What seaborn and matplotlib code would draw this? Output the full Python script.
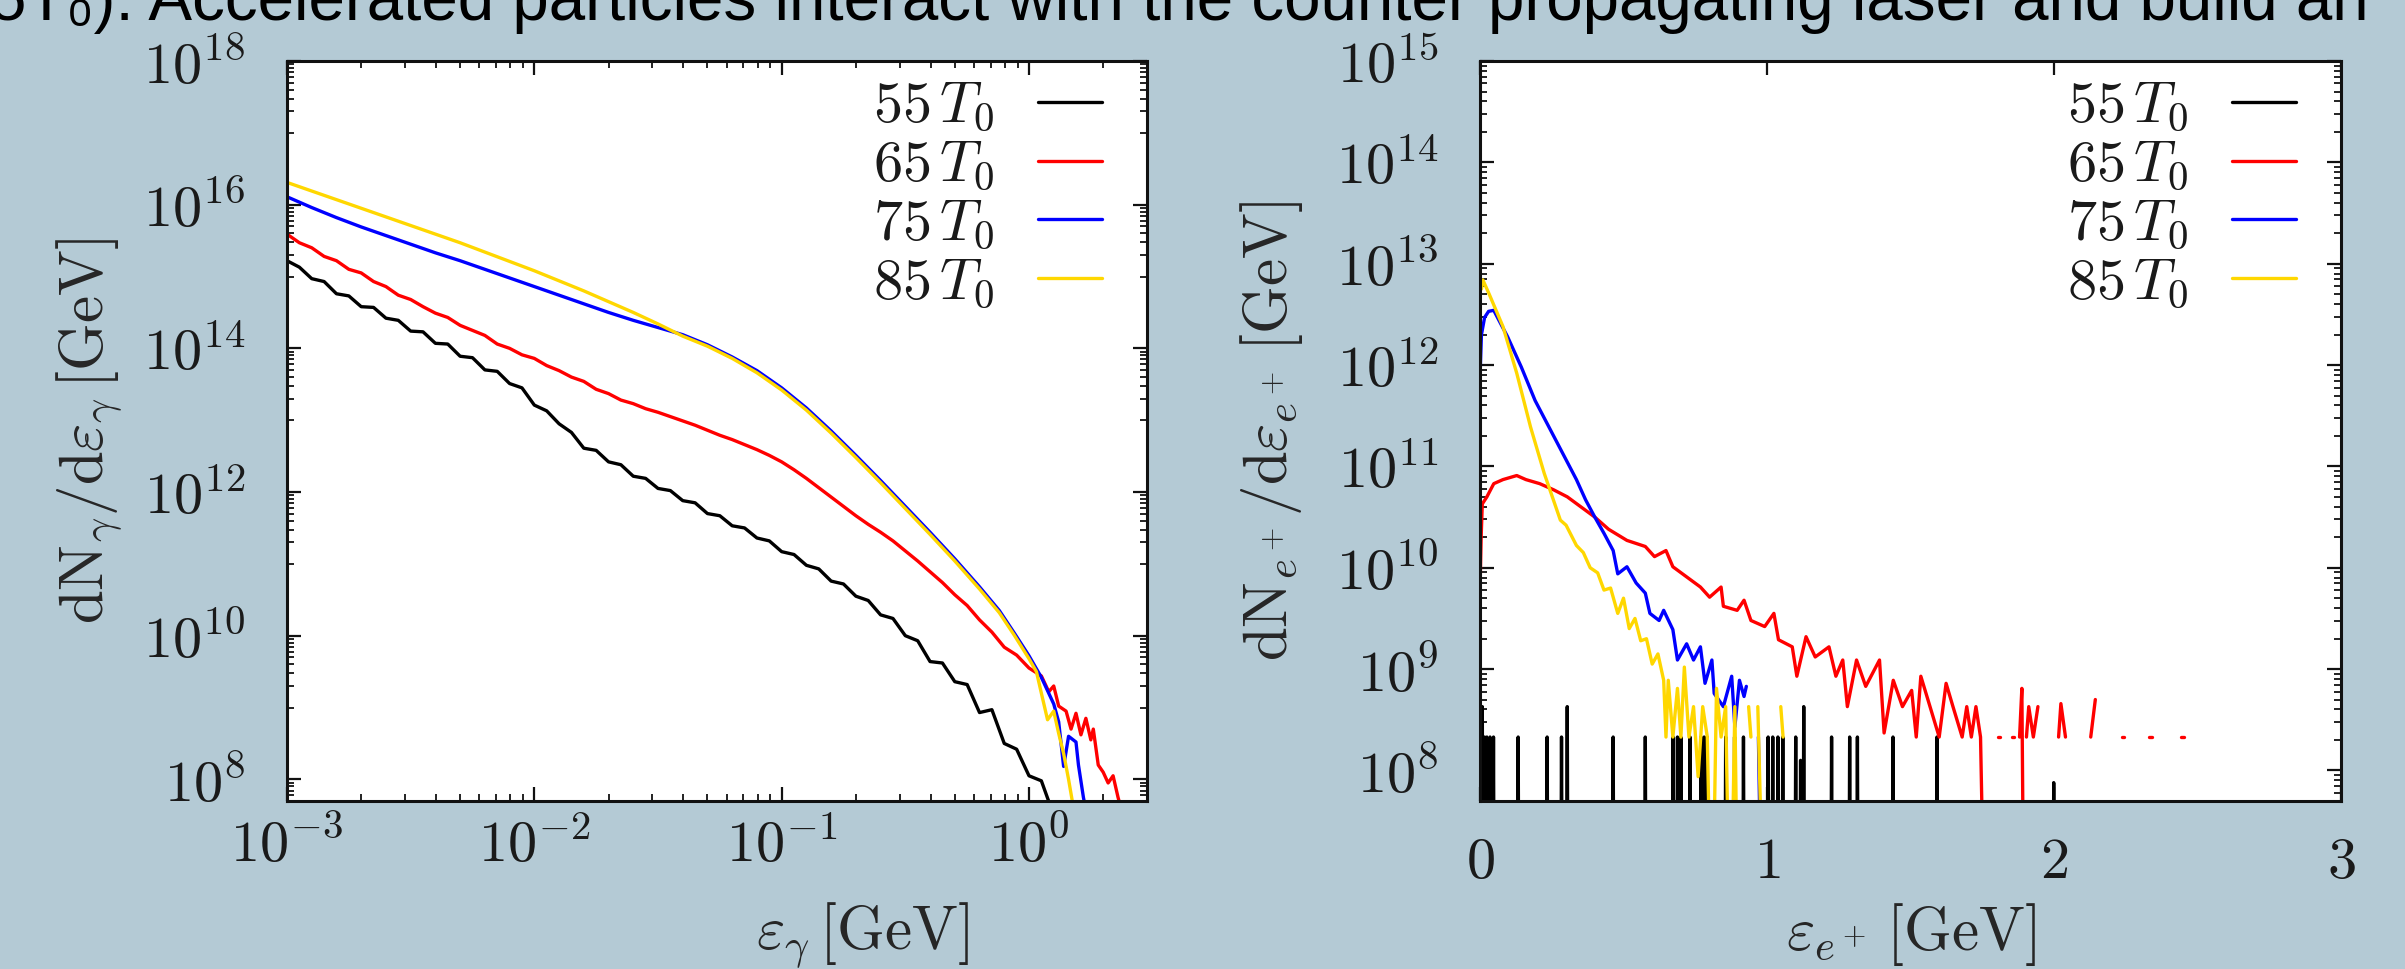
import numpy as np
import pandas as pd
import matplotlib
matplotlib.use("Agg")
import matplotlib.pyplot as plt
import seaborn as sns
from matplotlib.ticker import FixedLocator, FuncFormatter, NullLocator, LogLocator, NullFormatter
from matplotlib.lines import Line2D

# ---------------- data ----------------
series_names = ["55", "65", "75", "85"]
series_colors = ["#000000", "#ff0000", "#0000ff", "#ffd700"]

# Left panel: photon spectra, log10(E/GeV) and log10(dN/dE)
gam55_logE = [-3.00,-2.95,-2.90,-2.85,-2.80,-2.75,-2.70,-2.65,-2.60,-2.55,-2.50,-2.45,-2.40,-2.35,-2.30,-2.25,
              -2.20,-2.15,-2.10,-2.05,-2.00,-1.95,-1.90,-1.85,-1.80,-1.75,-1.70,-1.65,-1.60,-1.55,-1.50,-1.45,
              -1.40,-1.35,-1.30,-1.25,-1.20,-1.15,-1.10,-1.05,-1.00,-0.95,-0.90,-0.85,-0.80,-0.75,-0.70,-0.65,
              -0.60,-0.55,-0.50,-0.45,-0.40,-0.35,-0.30,-0.25,-0.20,-0.15,-0.10,-0.05,0.00,0.05,0.10]
gam55_logN = [15.22,15.13,14.97,14.93,14.76,14.73,14.58,14.57,14.42,14.39,14.24,14.23,14.07,14.06,13.89,13.87,
              13.70,13.68,13.51,13.45,13.21,13.13,12.95,12.83,12.61,12.58,12.42,12.38,12.22,12.19,12.05,12.02,
              11.88,11.85,11.70,11.67,11.53,11.50,11.36,11.32,11.17,11.13,10.98,10.93,10.76,10.72,10.55,10.49,
              10.29,10.24,10.00,9.93,9.64,9.62,9.36,9.32,8.93,8.97,8.50,8.42,8.05,7.98,7.50]

gam65_logE = [-3.00,-2.95,-2.90,-2.85,-2.80,-2.75,-2.70,-2.65,-2.60,-2.55,-2.50,-2.45,-2.40,-2.35,-2.30,-2.25,
              -2.20,-2.15,-2.10,-2.05,-2.00,-1.95,-1.90,-1.85,-1.80,-1.75,-1.70,-1.65,-1.60,-1.55,-1.50,-1.45,
              -1.40,-1.35,-1.30,-1.25,-1.20,-1.15,-1.10,-1.05,-1.00,-0.95,-0.90,-0.85,-0.80,-0.75,-0.70,-0.65,
              -0.60,-0.55,-0.50,-0.45,-0.40,-0.35,-0.30,-0.25,-0.20,-0.15,-0.10,-0.05,0.00,
              0.05,0.08,0.10,0.12,0.15,0.17,0.19,0.21,0.23,0.25,0.26,0.28,0.30,0.32,0.34,0.36,0.38]
gam65_logN = [15.59,15.47,15.40,15.28,15.22,15.10,15.05,14.93,14.86,14.74,14.68,14.58,14.49,14.43,14.32,14.25,
              14.18,14.06,14.00,13.91,13.86,13.76,13.69,13.60,13.54,13.43,13.37,13.28,13.23,13.16,13.11,13.05,
              12.99,12.93,12.86,12.79,12.73,12.66,12.59,12.51,12.42,12.31,12.19,12.06,11.93,11.80,11.67,11.55,
              11.44,11.32,11.18,11.04,10.89,10.74,10.57,10.42,10.22,10.05,9.84,9.73,9.55,
              9.44,9.22,9.30,9.02,8.95,8.70,8.92,8.62,8.85,8.55,8.70,8.20,8.10,7.95,8.05,7.75,7.50]

gam75_logE = [-3.0,-2.9,-2.8,-2.7,-2.6,-2.5,-2.4,-2.3,-2.2,-2.1,-2.0,-1.9,-1.8,-1.7,-1.6,-1.5,-1.4,-1.3,
              -1.2,-1.1,-1.0,-0.9,-0.8,-0.7,-0.6,-0.5,-0.4,-0.3,-0.2,-0.12,-0.06,0.0,0.05,0.10,0.12,0.14,
              0.16,0.19,0.20,0.22,0.24]
gam75_logN = [16.11,15.96,15.82,15.69,15.57,15.45,15.33,15.22,15.10,14.98,14.86,14.74,14.62,14.50,14.39,14.29,14.19,14.05,
              13.88,13.69,13.45,13.17,12.85,12.51,12.16,11.80,11.44,11.07,10.68,10.35,10.04,9.72,9.42,9.05,8.80,8.18,
              8.60,8.52,8.20,7.75,7.40]

gam85_logE = [-3.0,-2.9,-2.8,-2.7,-2.6,-2.5,-2.4,-2.3,-2.2,-2.1,-2.0,-1.9,-1.8,-1.7,-1.6,-1.5,-1.4,-1.3,-1.2,-1.1,-1.0,
              -0.9,-0.8,-0.7,-0.6,-0.5,-0.4,-0.3,-0.2,-0.12,-0.06,0.0,0.03,0.05,0.075,0.10,0.12,0.14,0.16,0.18]
gam85_logN = [16.31,16.19,16.07,15.95,15.83,15.71,15.59,15.47,15.34,15.21,15.08,14.94,14.80,14.65,14.50,14.34,14.17,14.03,13.86,13.66,13.42,
              13.14,12.82,12.48,12.13,11.77,11.41,11.04,10.65,10.32,10.01,9.68,9.50,9.20,8.83,8.95,8.64,8.36,8.00,7.60]

# Right panel: positron spectra, E in GeV and log10(dN/dE); nan = empty bin (line break), 6.0 = far below axis
pos55_spike_E = [0.004,0.008,0.016,0.024,0.035,0.047,0.133,0.234,0.284,0.304,0.464,0.576,0.673,0.688,0.700,0.732,
                 0.770,0.781,0.791,0.856,0.887,0.918,1.004,1.020,1.038,1.055,1.100,1.117,1.128,1.225,1.288,1.315,
                 1.439,1.592,1.999]
pos55_spike_logN = [8.33,8.63,8.33,8.33,8.33,8.33,8.33,8.33,8.33,8.63,8.33,8.33,8.33,8.33,8.33,8.33,
                    8.33,8.33,8.33,8.33,8.33,8.33,8.33,8.33,8.33,8.33,8.33,8.10,8.63,8.33,8.33,8.33,
                    8.33,8.33,7.88]

nan = float("nan")
pos65_E = [0.000,0.004,0.008,0.024,0.048,0.080,0.128,0.160,0.208,0.256,0.304,0.352,0.400,0.448,0.512,0.576,
           0.608,0.648,0.672,0.720,0.768,0.800,0.840,0.848,0.896,0.920,0.944,0.992,1.024,1.040,1.088,1.104,
           1.136,1.168,1.216,1.240,1.264,1.280,1.312,1.344,1.392,1.408,1.440,1.472,1.504,1.520,1.536,1.568,
           1.600,1.624,1.648,1.680,1.696,1.712,1.728,1.744,1.760,nan,1.804,1.812,nan,1.852,1.860,nan,
           1.880,1.888,1.896,nan,1.904,1.912,1.928,1.944,nan,2.016,2.024,2.040,nan,2.128,2.144,nan,
           2.236,2.244,nan,2.332,2.340,nan,2.444,2.452]
pos65_logN = [9.77,10.30,10.63,10.70,10.83,10.87,10.91,10.87,10.83,10.77,10.70,10.60,10.50,10.38,10.27,10.21,
              10.11,10.17,10.01,9.91,9.81,9.71,9.81,9.62,9.58,9.68,9.48,9.42,9.55,9.29,9.22,8.93,
              9.32,9.12,9.22,8.93,9.09,8.63,9.09,8.83,9.09,8.37,8.89,8.63,8.79,8.33,8.93,8.63,
              8.33,8.86,8.63,8.33,8.63,8.33,8.63,8.33,6.0,nan,8.33,8.33,nan,8.33,8.33,nan,
              8.33,8.81,6.0,nan,8.33,8.63,8.33,8.63,nan,8.33,8.66,8.33,nan,8.33,8.70,nan,
              8.33,8.33,nan,8.33,8.33,nan,8.33,8.33]

pos75_E = [0.000,0.005,0.016,0.030,0.048,0.070,0.096,0.144,0.192,0.240,0.288,0.336,0.368,0.400,0.432,0.464,
           0.480,0.512,0.544,0.576,0.592,0.624,0.640,0.672,0.688,0.720,0.744,0.768,0.784,0.808,0.816,0.848,
           0.877,0.888,0.904,0.920,0.928,nan,0.970,0.984]
pos75_logN = [11.88,12.30,12.47,12.53,12.54,12.42,12.28,11.98,11.65,11.39,11.13,10.87,10.67,10.50,10.34,10.17,
              9.94,10.01,9.85,9.75,9.55,9.48,9.58,9.39,9.09,9.25,9.09,9.22,8.86,9.09,8.76,8.63,
              8.93,8.43,8.89,8.73,8.83,nan,8.33,6.0]

pos85_E = [0.005,0.010,0.032,0.080,0.128,0.176,0.224,0.280,0.300,0.336,0.360,0.384,0.410,0.432,0.455,0.480,
           0.500,0.520,0.540,0.560,0.580,0.600,0.620,0.640,0.648,0.656,0.672,0.688,0.700,0.712,0.728,0.744,
           0.760,0.776,0.792,0.808,0.824,0.840,0.856,0.872,0.888,0.900,nan,0.936,0.944,nan,0.968,0.992,
           nan,1.048,1.056]
pos85_logN = [12.75,12.84,12.70,12.38,11.92,11.39,10.93,10.47,10.42,10.22,10.15,10.00,9.95,9.78,9.80,9.55,
              9.70,9.40,9.50,9.28,9.30,9.05,9.15,8.89,8.33,8.89,8.33,8.81,8.33,9.02,8.33,8.63,
              7.94,8.63,8.33,6.0,8.81,8.33,8.63,6.0,8.63,6.0,nan,8.63,8.33,nan,8.63,6.0,
              nan,8.63,8.33]

title_text = "5T\u2080). Accelerated particles interact with the counter propagating laser and build an"

# ---------------- style ----------------
BG = "#b4cad5"
LW = 2.4
FS_TICK = 42
FS_LAB = 44
FS_LEG = 42

sns.set_style("ticks")
plt.rcParams["mathtext.fontset"] = "cm"
plt.rcParams["font.family"] = ["DejaVu Serif"]
plt.rcParams["axes.linewidth"] = 2.2
plt.rcParams["text.color"] = "#1a1a1a"


def segments_frame(E, logN, name, offset=0):
    E = np.asarray(E, float)
    L = np.asarray(logN, float)
    seg = np.cumsum(np.isnan(E)) + offset
    m = ~np.isnan(E)
    return pd.DataFrame({"E": E[m], "N": 10.0 ** L[m], "series": name, "seg": seg[m]})


gam_df = pd.concat([
    segments_frame(10.0 ** np.asarray(gam55_logE), gam55_logN, "55", 0),
    segments_frame(10.0 ** np.asarray(gam65_logE), gam65_logN, "65", 100),
    segments_frame(10.0 ** np.asarray(gam75_logE), gam75_logN, "75", 200),
    segments_frame(10.0 ** np.asarray(gam85_logE), gam85_logN, "85", 300),
], ignore_index=True)

# black positron series: isolated occupied bins among empty ones
spk_rows = []
for i, (e, lv) in enumerate(zip(pos55_spike_E, pos55_spike_logN)):
    for ee, nn in ((e - 0.003, 1e6), (e, 10.0 ** lv), (e + 0.003, 1e6)):
        spk_rows.append({"E": ee, "N": nn, "series": "55", "seg": 1000 + i})
pos_df = pd.concat([
    pd.DataFrame(spk_rows),
    segments_frame(pos65_E, pos65_logN, "65", 2000),
    segments_frame(pos75_E, pos75_logN, "75", 3000),
    segments_frame(pos85_E, pos85_logN, "85", 4000),
], ignore_index=True)

palette = dict(zip(series_names, series_colors))

fig = plt.figure(figsize=(24.05, 9.69), dpi=100)
fig.patch.set_facecolor(BG)
W, H = 2405.0, 969.0
axL = fig.add_axes([287 / W, 1 - 801 / H, 860 / W, 740 / H])
axR = fig.add_axes([1480 / W, 1 - 801 / H, 861 / W, 740 / H])

for ax, df in ((axL, gam_df), (axR, pos_df)):
    ax.set_facecolor("white")
    sns.lineplot(data=df, x="E", y="N", hue="series", units="seg", estimator=None,
                 palette=palette, hue_order=series_names, linewidth=LW, legend=False, ax=ax)

logfmt = FuncFormatter(lambda v, p: r"$10^{%d}$" % int(round(np.log10(v))))

# ----- left axes -----
axL.set_xscale("log")
axL.set_yscale("log")
axL.set_xlim(1e-3, 3.0)
axL.set_ylim(5e7, 1e18)
axL.yaxis.set_major_locator(FixedLocator([10.0 ** e for e in range(8, 19, 2)]))
axL.yaxis.set_minor_locator(FixedLocator([k * 10.0 ** e for e in range(7, 18, 2) for k in range(1, 10)]))
axL.xaxis.set_major_locator(LogLocator(base=10, numticks=12))
axL.xaxis.set_minor_locator(LogLocator(base=10, subs=np.arange(2, 10), numticks=30))
axL.xaxis.set_major_formatter(logfmt)
axL.yaxis.set_major_formatter(logfmt)
axL.set_xlabel(r"$\varepsilon_\gamma\,[\mathrm{GeV}]$", fontsize=FS_LAB)
axL.set_ylabel(r"$\mathrm{dN}_\gamma/\mathrm{d}\varepsilon_\gamma\,[\mathrm{GeV}]$", fontsize=FS_LAB)
axL.xaxis.set_label_coords(0.669, -0.135)
axL.yaxis.set_label_coords(-0.19, 0.5)

# ----- right axes -----
axR.set_yscale("log")
axR.set_xlim(0, 3)
axR.set_ylim(5e7, 1e15)
axR.yaxis.set_major_locator(FixedLocator([10.0 ** e for e in range(8, 16)]))
axR.yaxis.set_minor_locator(FixedLocator([k * 10.0 ** e for e in range(7, 15) for k in range(2, 10)]))
axR.xaxis.set_major_locator(FixedLocator([0, 1, 2, 3]))
axR.xaxis.set_minor_locator(NullLocator())
axR.xaxis.set_major_formatter(FuncFormatter(lambda v, p: r"$%d$" % int(round(v))))
axR.yaxis.set_major_formatter(logfmt)
axR.set_xlabel(r"$\varepsilon_{e^+}\,[\mathrm{GeV}]$", fontsize=FS_LAB)
axR.set_ylabel(r"$\mathrm{dN}_{e^+}/\mathrm{d}\varepsilon_{e^+}\,[\mathrm{GeV}]$", fontsize=FS_LAB)
axR.xaxis.set_label_coords(0.5, -0.135)
axR.yaxis.set_label_coords(-0.203, 0.5)

for ax, xpad in ((axL, 12), (axR, 24)):
    ax.xaxis.set_minor_formatter(NullFormatter())
    ax.yaxis.set_minor_formatter(NullFormatter())
    for s in ax.spines.values():
        s.set_visible(True)
        s.set_linewidth(2.2)
        s.set_color("#111111")
    ax.tick_params(which="both", direction="in", top=True, right=True, color="#111111",
                   labelcolor="#1a1a1a", labelsize=FS_TICK)
    ax.tick_params(which="major", length=10, width=1.6)
    ax.tick_params(which="minor", length=5, width=1.3)
    ax.tick_params(axis="y", which="major", pad=30)
    ax.tick_params(axis="x", which="major", pad=xpad)
    handles = [Line2D([], [], color=c, lw=LW) for c in series_colors]
    labels = [r"$%s\,T_0$" % s for s in series_names]
    ax.legend(handles, labels, loc="upper right", bbox_to_anchor=(0.948, 0.977), frameon=False,
              markerfirst=False, handlelength=1.1, handletextpad=0.75, labelspacing=0.05,
              borderpad=0, borderaxespad=0, fontsize=FS_LEG)

fig.text(-0.004, 1 - 20 / H, title_text, fontsize=47.2, family=["Liberation Sans", "DejaVu Sans"],
         va="baseline", ha="left", color="black")

fig.savefig("out.png", dpi=100, facecolor=BG)
